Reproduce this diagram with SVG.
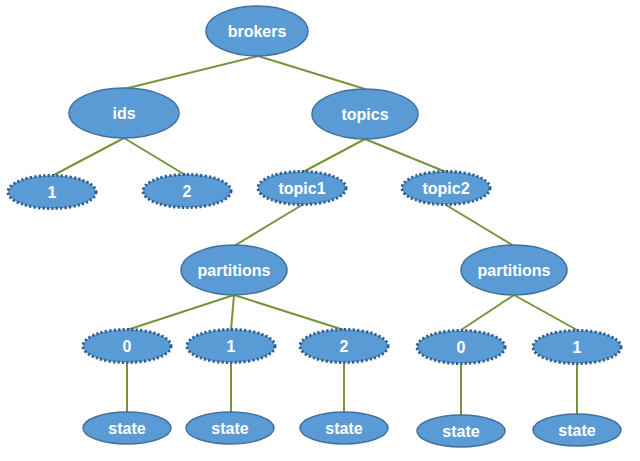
<svg xmlns="http://www.w3.org/2000/svg" width="640" height="461" viewBox="0 0 640 461">
<style>
.n{fill:#5b9bd5;stroke:#41719c;stroke-width:1.5}
.d{fill:#5b9bd5;stroke:#2f5f8f;stroke-width:3;stroke-dasharray:2.2 2.2}
.t{font-family:"Liberation Sans",Arial,sans-serif;font-weight:bold;font-size:16px;fill:#fff;text-anchor:middle;dominant-baseline:central}
.c line{stroke:#77933c;stroke-width:2}
</style>
<rect width="640" height="461" fill="#fff"/>
<g class="c" id="connectors">
<line x1="258" y1="56" x2="124" y2="89"/>
<line x1="258" y1="56" x2="365" y2="89"/>
<line x1="124" y1="138" x2="52" y2="176"/>
<line x1="124" y1="138" x2="187" y2="176"/>
<line x1="365" y1="139" x2="303" y2="172"/>
<line x1="365" y1="139" x2="446" y2="172"/>
<line x1="302" y1="205" x2="234" y2="246"/>
<line x1="446" y1="205" x2="514" y2="246"/>
<line x1="234" y1="295" x2="127" y2="330"/>
<line x1="234" y1="295" x2="231" y2="330"/>
<line x1="234" y1="295" x2="344" y2="330"/>
<line x1="514" y1="295" x2="461" y2="330"/>
<line x1="514" y1="295" x2="577" y2="330"/>
<line x1="127" y1="363" x2="127" y2="412"/>
<line x1="231" y1="363" x2="231" y2="412"/>
<line x1="344" y1="363" x2="344" y2="412"/>
<line x1="461" y1="364" x2="461" y2="415"/>
<line x1="577" y1="364" x2="577" y2="414"/>
</g>
<g id="brokers"><ellipse class="n" cx="257" cy="31" rx="51" ry="25"/><text class="t" x="257" y="31">brokers</text></g>
<g id="ids"><ellipse class="n" cx="124" cy="113" rx="55" ry="25"/><text class="t" x="124" y="113">ids</text></g>
<g id="topics"><ellipse class="n" cx="365" cy="114" rx="53" ry="25"/><text class="t" x="365" y="114">topics</text></g>
<g id="id1"><ellipse class="d" cx="52" cy="192" rx="44" ry="16.5"/><text class="t" x="52" y="192">1</text></g>
<g id="id2"><ellipse class="d" cx="187" cy="191" rx="44" ry="16.5"/><text class="t" x="187" y="191">2</text></g>
<g id="topic1"><ellipse class="d" cx="302" cy="188" rx="44" ry="16.5"/><text class="t" x="302" y="188">topic1</text></g>
<g id="topic2"><ellipse class="d" cx="446" cy="188" rx="44" ry="16.5"/><text class="t" x="446" y="188">topic2</text></g>
<g id="partitions1"><ellipse class="n" cx="234" cy="270" rx="53" ry="25"/><text class="t" x="234" y="270">partitions</text></g>
<g id="partitions2"><ellipse class="n" cx="514" cy="270" rx="53" ry="25"/><text class="t" x="514" y="270">partitions</text></g>
<g id="p1_0"><ellipse class="d" cx="127" cy="346" rx="44" ry="16.5"/><text class="t" x="127" y="346">0</text></g>
<g id="p1_1"><ellipse class="d" cx="231" cy="346" rx="44" ry="16.5"/><text class="t" x="231" y="346">1</text></g>
<g id="p1_2"><ellipse class="d" cx="344" cy="346" rx="44" ry="16.5"/><text class="t" x="344" y="346">2</text></g>
<g id="p2_0"><ellipse class="d" cx="461" cy="347" rx="44" ry="16.5"/><text class="t" x="461" y="347">0</text></g>
<g id="p2_1"><ellipse class="d" cx="577" cy="347" rx="44" ry="16.5"/><text class="t" x="577" y="347">1</text></g>
<g id="s1"><ellipse class="n" cx="127" cy="428" rx="44" ry="16"/><text class="t" x="127" y="428">state</text></g>
<g id="s2"><ellipse class="n" cx="230" cy="428" rx="44" ry="16"/><text class="t" x="230" y="428">state</text></g>
<g id="s3"><ellipse class="n" cx="344" cy="428" rx="44" ry="16"/><text class="t" x="344" y="428">state</text></g>
<g id="s4"><ellipse class="n" cx="461" cy="431" rx="44" ry="16"/><text class="t" x="461" y="431">state</text></g>
<g id="s5"><ellipse class="n" cx="577" cy="430" rx="44" ry="16"/><text class="t" x="577" y="430">state</text></g>
</svg>
